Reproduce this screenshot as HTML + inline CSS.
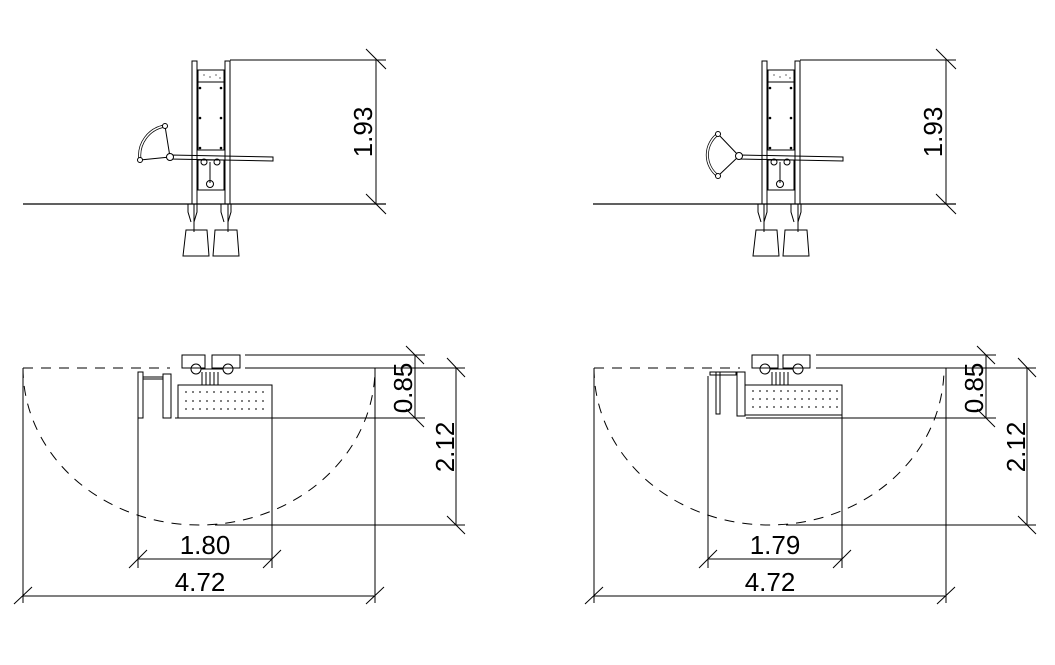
<!DOCTYPE html>
<html><head><meta charset="utf-8"><style>
html,body{margin:0;padding:0;background:#fff}
svg{display:block}
text{font-family:"Liberation Sans",sans-serif;font-size:26px;fill:#000}
</style></head><body>
<svg width="1055" height="665" viewBox="0 0 1055 665" xmlns="http://www.w3.org/2000/svg">
<defs>
<g id="elev" fill="none" stroke="#000" stroke-width="1">
  <line x1="23" y1="204" x2="386" y2="204" stroke-width="1.3"/>
  <rect x="192" y="61" width="5" height="143"/>
  <rect x="225" y="61" width="5" height="143"/>
  <line x1="194" y1="204" x2="194" y2="232"/><line x1="228" y1="204" x2="228" y2="232"/>
  <rect x="198" y="70" width="26" height="12"/>
  <rect x="198" y="82" width="26" height="68"/>
  <rect x="198" y="160" width="26" height="30"/>
  <g fill="#000" stroke="none">
    <circle cx="200" cy="88" r="1.3"/><circle cx="221" cy="88" r="1.3"/>
    <circle cx="200" cy="118" r="1.3"/><circle cx="221" cy="118" r="1.3"/>
    <circle cx="200" cy="148" r="1.3"/><circle cx="221" cy="148" r="1.3"/>
    <circle cx="204" cy="75" r=".6"/><circle cx="210" cy="77" r=".6"/><circle cx="216" cy="75" r=".6"/><circle cx="220" cy="78" r=".6"/>
  </g>
  <circle cx="204" cy="162" r="3"/><circle cx="217" cy="162" r="3"/>
  <line x1="210" y1="162" x2="210" y2="183"/><circle cx="210" cy="184" r="3.5"/>
  <polygon points="170,155 273,157 273,161 170,159"/>
  <path d="M188,204 v8 l3,10 M197,204 v8 l-3,10 M221,204 v8 l3,10 M231,204 v8 l-3,10"/>
  <polygon points="186,230 207,230 209,256 183,256"/>
  <polygon points="215,230 237,230 239,256 213,256"/>
  <line x1="230" y1="60" x2="386" y2="60"/>
  <line x1="376" y1="60" x2="376" y2="204"/>
  <line x1="366" y1="49" x2="386" y2="69"/><line x1="366" y1="194" x2="386" y2="214"/>
</g>
<g id="plan" fill="none" stroke="#000" stroke-width="1">
  <line x1="23" y1="603" x2="23" y2="368"/>
  <line x1="375" y1="368" x2="375" y2="603"/>
  <line x1="23" y1="596" x2="375" y2="596"/>
  <line x1="14" y1="604" x2="32" y2="587"/><line x1="366" y1="604" x2="384" y2="587"/>
  <line x1="245" y1="368" x2="465" y2="368"/>
  <line x1="245" y1="355" x2="425" y2="355"/>
  <line x1="175" y1="418" x2="425" y2="418"/>
  <line x1="215" y1="525" x2="465" y2="525"/>
  <line x1="456" y1="368" x2="456" y2="525"/>
  <line x1="447" y1="358" x2="465" y2="377"/><line x1="447" y1="516" x2="465" y2="534"/>
</g>
</defs>

<use href="#elev"/>
<g transform="translate(570,0)"><use href="#elev"/></g>

<g fill="none" stroke="#000" stroke-width="1">
  <path d="M140,160 A30,30 0 0 1 165,126" stroke-width="3"/>
  <path d="M140,160 A30,30 0 0 1 165,126" stroke="#fff" stroke-width="1.5"/>
  <line x1="140" y1="160" x2="170" y2="157"/><line x1="165" y1="126" x2="170" y2="157"/>
  <circle cx="140" cy="160" r="2.5" fill="#fff"/><circle cx="165" cy="126" r="2.5" fill="#fff"/>
  <circle cx="170" cy="157" r="3.5" fill="#fff"/>
</g>
<g fill="none" stroke="#000" stroke-width="1">
  <path d="M718,134 A26,26 0 0 0 718,176" stroke-width="3"/>
  <path d="M718,134 A26,26 0 0 0 718,176" stroke="#fff" stroke-width="1.5"/>
  <line x1="718" y1="134" x2="739" y2="156"/><line x1="718" y1="176" x2="739" y2="156"/>
  <circle cx="718" cy="134" r="2.5" fill="#fff"/><circle cx="718" cy="176" r="2.5" fill="#fff"/>
  <circle cx="739" cy="156" r="3.5" fill="#fff"/>
</g>
<text transform="translate(372,132) rotate(-90)" text-anchor="middle">1.93</text>
<text transform="translate(942,132) rotate(-90)" text-anchor="middle">1.93</text>

<use href="#plan"/>
<g fill="none" stroke="#000" stroke-width="1">
  <path d="M23,368 H170" stroke-dasharray="10,8"/>
  <path d="M23,368 A176,157 0 0 0 375,368" stroke-dasharray="10,8"/>
  <line x1="415" y1="355" x2="415" y2="418"/>
  <line x1="406" y1="346" x2="424" y2="364"/><line x1="406" y1="409" x2="424" y2="427"/>
  <line x1="138" y1="372" x2="138" y2="568"/><line x1="272" y1="385" x2="272" y2="568"/>
  <line x1="138" y1="559" x2="272" y2="559"/>
  <line x1="129" y1="568" x2="147" y2="550"/><line x1="263" y1="568" x2="281" y2="550"/>
  <rect x="182" y="355" width="23" height="13"/><rect x="212" y="355" width="28" height="13"/>
  <circle cx="196" cy="369" r="5"/><circle cx="228" cy="369" r="5"/>
  <path d="M201,369 H223 M202,372 V385 M206,372 V385 M210,372 V385 M214,372 V385 M218,372 V385"/>
  <rect x="138" y="372" width="5" height="46"/><rect x="143" y="377" width="20" height="2"/>
  <rect x="163" y="374" width="8" height="44"/>
  <rect x="178" y="385" width="94" height="33"/>
  <g stroke-dasharray="2,5"><line x1="185" y1="392" x2="268" y2="392"/><line x1="185" y1="401" x2="268" y2="401"/><line x1="185" y1="409" x2="268" y2="409"/></g>
</g>
<text x="205" y="554" text-anchor="middle">1.80</text>
<text x="200" y="591" text-anchor="middle">4.72</text>
<text transform="translate(412,388) rotate(-90)" text-anchor="middle">0.85</text>
<text transform="translate(454,447) rotate(-90)" text-anchor="middle">2.12</text>

<g transform="translate(571,0)"><use href="#plan"/></g>
<g fill="none" stroke="#000" stroke-width="1">
  <path d="M594,368 H740" stroke-dasharray="10,8"/>
  <path d="M594,368 A175,157 0 0 0 944,368" stroke-dasharray="10,8"/>
  <line x1="986" y1="355" x2="986" y2="418"/>
  <line x1="977" y1="346" x2="995" y2="364"/><line x1="977" y1="409" x2="995" y2="427"/>
  <line x1="708" y1="376" x2="708" y2="568"/><line x1="842" y1="385" x2="842" y2="568"/>
  <line x1="708" y1="559" x2="842" y2="559"/>
  <line x1="699" y1="568" x2="717" y2="550"/><line x1="833" y1="568" x2="851" y2="550"/>
  <rect x="752" y="355" width="26" height="13"/><rect x="783" y="355" width="27" height="13"/>
  <circle cx="765" cy="369" r="5"/><circle cx="798" cy="369" r="5"/>
  <path d="M770,369 H793 M772,372 V385 M776,372 V385 M780,372 V385 M784,372 V385 M788,372 V385"/>
  <rect x="716" y="372" width="4" height="42"/><rect x="710" y="372" width="26" height="3"/>
  <rect x="737" y="372" width="8" height="44"/>
  <rect x="745" y="385" width="97" height="30"/>
  <g stroke-dasharray="2,5"><line x1="752" y1="391" x2="838" y2="391"/><line x1="752" y1="399" x2="838" y2="399"/><line x1="752" y1="407" x2="838" y2="407"/></g>
</g>
<text x="775" y="554" text-anchor="middle">1.79</text>
<text x="770" y="591" text-anchor="middle">4.72</text>
<text transform="translate(983,388) rotate(-90)" text-anchor="middle">0.85</text>
<text transform="translate(1025,447) rotate(-90)" text-anchor="middle">2.12</text>
</svg>
</body></html>
